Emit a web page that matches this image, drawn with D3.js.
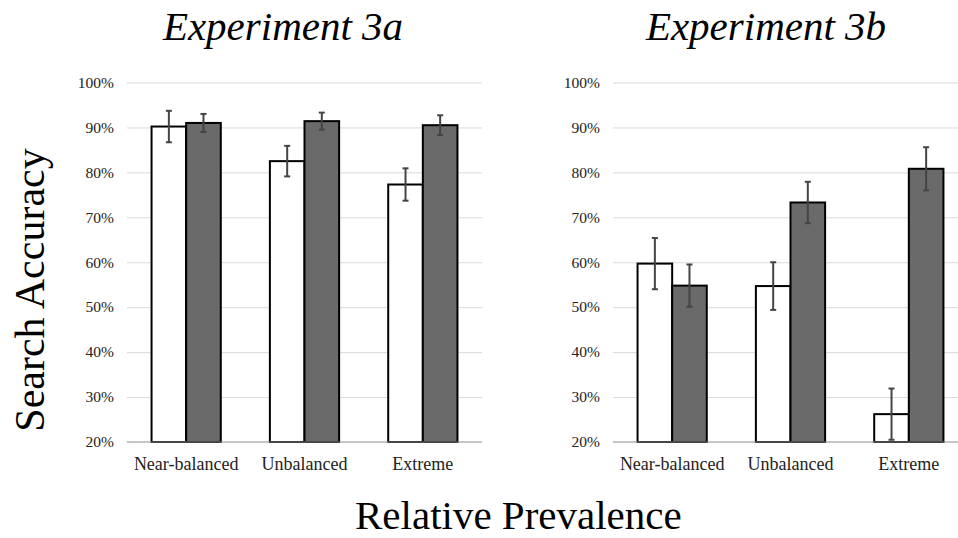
<!DOCTYPE html>
<html>
<head>
<meta charset="utf-8">
<script src="https://cdn.jsdelivr.net/npm/d3@7"></script>
<style>
  body { margin: 0; background: #fff; }
  svg text { font-family: 'Liberation Serif', 'DejaVu Serif', serif; }
  .grid line { stroke: #d9d9d9; stroke-width: 1; }
  .grid path { display: none; }
</style>
</head>
<body>
<div id="wrapper"></div>
<script>
// data
const categories = ['Near-balanced', 'Unbalanced', 'Extreme'];
const panelTitles = ['Experiment 3a', 'Experiment 3b'];
const yTicks = [20, 30, 40, 50, 60, 70, 80, 90, 100];

const exp3aWhite = [90.2, 82.5, 77.3];
const exp3aWhiteErr = [3.5, 3.4, 3.6];
const exp3aGray = [91.0, 91.4, 90.5];
const exp3aGrayErr = [2.0, 1.9, 2.2];

const exp3bWhite = [59.7, 54.7, 26.2];
const exp3bWhiteErr = [5.7, 5.3, 5.7];
const exp3bGray = [54.8, 73.3, 80.8];
const exp3bGrayErr = [4.7, 4.6, 4.8];

function drawChart() {
  const dimensions = {
    width: 958,
    height: 538,
    plotTop: 82.5,
    plotBottom: 442,
    plotWidth: 355,
    panelLefts: [127, 613]
  };

  const wrapper = d3
    .select('#wrapper')
    .append('svg')
    .attr('width', dimensions.width)
    .attr('height', dimensions.height);

  const yScale = d3
    .scaleLinear()
    .domain([20, 100])
    .range([dimensions.plotBottom, dimensions.plotTop]);

  const xScale = d3
    .scaleBand()
    .domain(categories)
    .range([0, dimensions.plotWidth])
    .paddingInner(0.415)
    .paddingOuter(0.2075);

  const seriesScale = d3
    .scaleBand()
    .domain(['white', 'gray'])
    .range([0, xScale.bandwidth()]);

  const panels = [
    { white: exp3aWhite, whiteErr: exp3aWhiteErr, gray: exp3aGray, grayErr: exp3aGrayErr },
    { white: exp3bWhite, whiteErr: exp3bWhiteErr, gray: exp3bGray, grayErr: exp3bGrayErr }
  ];

  const fills = { white: '#ffffff', gray: '#6a6a6a' };

  panels.forEach((panel, pi) => {
    const left = dimensions.panelLefts[pi];
    const bounds = wrapper.append('g').attr('transform', `translate(${left},0)`);

    // gridlines
    bounds
      .append('g')
      .attr('class', 'grid')
      .call(
        d3.axisLeft(yScale)
          .tickValues(yTicks.slice(1))
          .tickSize(-dimensions.plotWidth)
          .tickFormat('')
      );

    // tick labels
    bounds
      .selectAll('.tick-label')
      .data(yTicks)
      .join('text')
      .attr('class', 'tick-label')
      .attr('x', -13)
      .attr('y', d => yScale(d))
      .attr('dy', '0.34em')
      .attr('text-anchor', 'end')
      .style('font-size', '15.5px')
      .style('fill', '#222')
      .text(d => d + '%');

    const rows = categories.map((c, i) => [
      { cat: c, key: 'white', value: panel.white[i], err: panel.whiteErr[i] },
      { cat: c, key: 'gray', value: panel.gray[i], err: panel.grayErr[i] }
    ]).flat();

    // bars
    bounds
      .selectAll('rect.bar')
      .data(rows)
      .join('rect')
      .attr('class', 'bar')
      .attr('x', d => xScale(d.cat) + seriesScale(d.key))
      .attr('y', d => yScale(d.value))
      .attr('width', seriesScale.bandwidth())
      .attr('height', d => yScale(20) - yScale(d.value))
      .attr('fill', d => fills[d.key])
      .attr('stroke', '#000')
      .attr('stroke-width', 2);

    // baseline
    bounds
      .append('line')
      .attr('x1', 0)
      .attr('x2', dimensions.plotWidth)
      .attr('y1', yScale(20))
      .attr('y2', yScale(20))
      .attr('stroke', '#8c8c8c')
      .attr('stroke-width', 1);

    // error bars
    const errs = bounds
      .selectAll('g.err')
      .data(rows)
      .join('g')
      .attr('class', 'err')
      .attr('transform', d =>
        `translate(${xScale(d.cat) + seriesScale(d.key) + seriesScale.bandwidth() / 2},0)`)
      .attr('stroke', '#444')
      .attr('stroke-width', 2);

    errs.append('line')
      .attr('y1', d => yScale(d.value + d.err))
      .attr('y2', d => yScale(d.value - d.err));
    errs.append('line')
      .attr('x1', -3).attr('x2', 3)
      .attr('y1', d => yScale(d.value + d.err))
      .attr('y2', d => yScale(d.value + d.err));
    errs.append('line')
      .attr('x1', -3).attr('x2', 3)
      .attr('y1', d => yScale(d.value - d.err))
      .attr('y2', d => yScale(d.value - d.err));

    // category labels
    bounds
      .selectAll('.cat-label')
      .data(categories)
      .join('text')
      .attr('class', 'cat-label')
      .attr('x', d => xScale(d) + xScale.bandwidth() / 2)
      .attr('y', 470)
      .attr('text-anchor', 'middle')
      .style('font-size', '18px')
      .style('fill', '#222')
      .text(d => d);

    // title
    bounds
      .append('text')
      .attr('x', pi === 0 ? 156 : 153)
      .attr('y', 40)
      .attr('text-anchor', 'middle')
      .style('font-size', '41px')
      .style('font-style', 'italic')
      .text(panelTitles[pi]);
  });

  // axis titles
  wrapper
    .append('text')
    .attr('transform', 'translate(44,290) rotate(-90)')
    .attr('text-anchor', 'middle')
    .style('font-size', '42px')
    .text('Search Accuracy');

  wrapper
    .append('text')
    .attr('x', 355)
    .attr('y', 529)
    .attr('text-anchor', 'start')
    .style('font-size', '41px')
    .text('Relative Prevalence');
}
drawChart();
</script>
</body>
</html>
